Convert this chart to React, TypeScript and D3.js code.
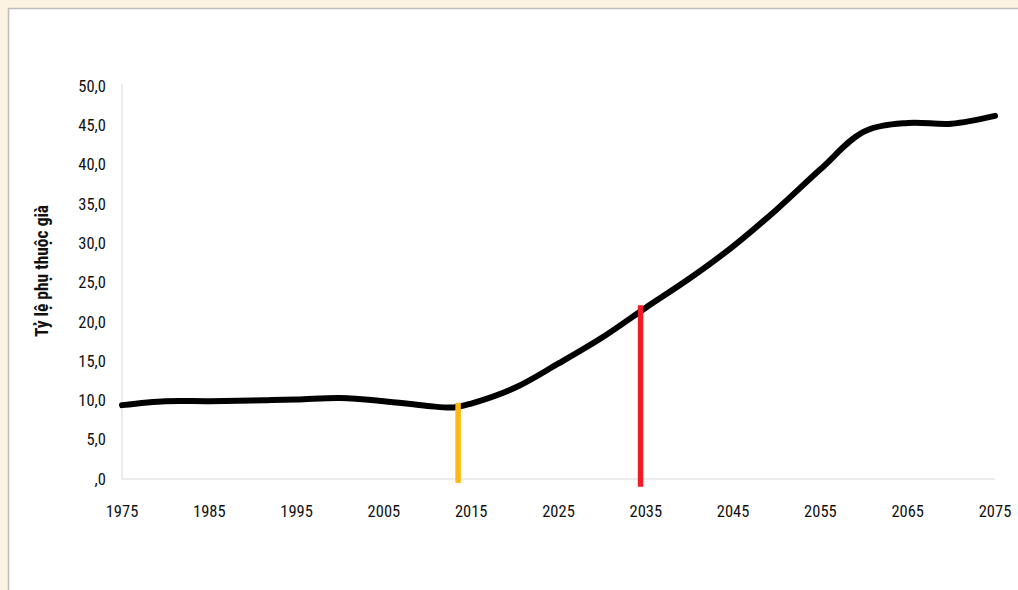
import React from "react";
import * as d3 from "d3";

const years = [1975, 1980, 1985, 1990, 1995, 2000, 2005, 2010, 2013, 2015, 2020, 2025, 2030, 2035, 2040, 2045, 2050, 2055, 2060, 2065, 2070, 2075];
const values = [9.4, 9.9, 9.9, 10.0, 10.1, 10.3, 9.9, 9.3, 9.1, 9.6, 11.6, 14.7, 18.0, 21.8, 25.5, 29.6, 34.3, 39.4, 44.2, 45.3, 45.2, 46.2];
const xTicks = [1975, 1985, 1995, 2005, 2015, 2025, 2035, 2045, 2055, 2065, 2075];
const yTicks = [0, 5, 10, 15, 20, 25, 30, 35, 40, 45, 50];
const markerYears = [2013.5, 2034.4];
const markerTops = [9.7, 22.1];
const markerBottoms = [-0.5, -1.0];
const markerColors = ["#FDB813", "#EE1D25"];
const yTitle = "Tỷ lệ phụ thuộc già";

const W = 1018;
const H = 590;
const font = "'Liberation Sans Narrow', 'Arial Narrow', 'Roboto Condensed', sans-serif";

export default function App() {
  const x = d3.scaleLinear().domain([1975, 2075]).range([122, 995]);
  const y = d3.scaleLinear().domain([0, 50]).range([479, 86]);
  const pts: [number, number][] = years.map((yr, i) => [yr, values[i]]);
  const line = d3
    .line<[number, number]>()
    .x((d) => x(d[0]))
    .y((d) => y(d[1]))
    .curve(d3.curveCatmullRom.alpha(0.5));
  const fmt = (v: number) => (v === 0 ? ",0" : v.toFixed(1).replace(".", ","));

  return (
    <svg
      width={W}
      height={H}
      style={{ position: "absolute", left: 0, top: 0, display: "block" }}
    >
      <rect x={0} y={0} width={W} height={H} fill="#fdf3e2" />
      <rect x={8.5} y={8.5} width={W + 10} height={H + 10} fill="#ffffff" stroke="#bdbdbd" strokeWidth={1.5} />
      <line x1={x(1975)} x2={x(1975)} y1={y(50) - 2} y2={y(0)} stroke="#d9d9d9" strokeWidth={1} />
      <line x1={x(1975)} x2={x(2075)} y1={y(0)} y2={y(0)} stroke="#d9d9d9" strokeWidth={1} />
      {yTicks.map((t) => (
        <text
          key={t}
          x={106}
          y={y(t)}
          dy="0.35em"
          textAnchor="end"
          fontFamily={font}
          fontSize={16.5}
          fill="#111"
        >
          {fmt(t)}
        </text>
      ))}
      {xTicks.map((t) => (
        <text
          key={t}
          x={x(t)}
          y={517}
          textAnchor="middle"
          fontFamily={font}
          fontSize={16.5}
          fill="#111"
        >
          {t}
        </text>
      ))}
      <text
        transform={`translate(48,271) rotate(-90)`}
        textAnchor="middle"
        fontFamily={font}
        fontWeight="bold"
        fontSize={17.5}
        fill="#111"
      >
        {yTitle}
      </text>
      <path d={line(pts) || ""} fill="none" stroke="#000" strokeWidth={6} strokeLinecap="round" strokeLinejoin="round" />
      {markerYears.map((m, i) => (
        <line
          key={m}
          x1={x(m)}
          x2={x(m)}
          y1={y(markerTops[i])}
          y2={y(markerBottoms[i])}
          stroke={markerColors[i]}
          strokeWidth={5.5}
        />
      ))}
    </svg>
  );
}
